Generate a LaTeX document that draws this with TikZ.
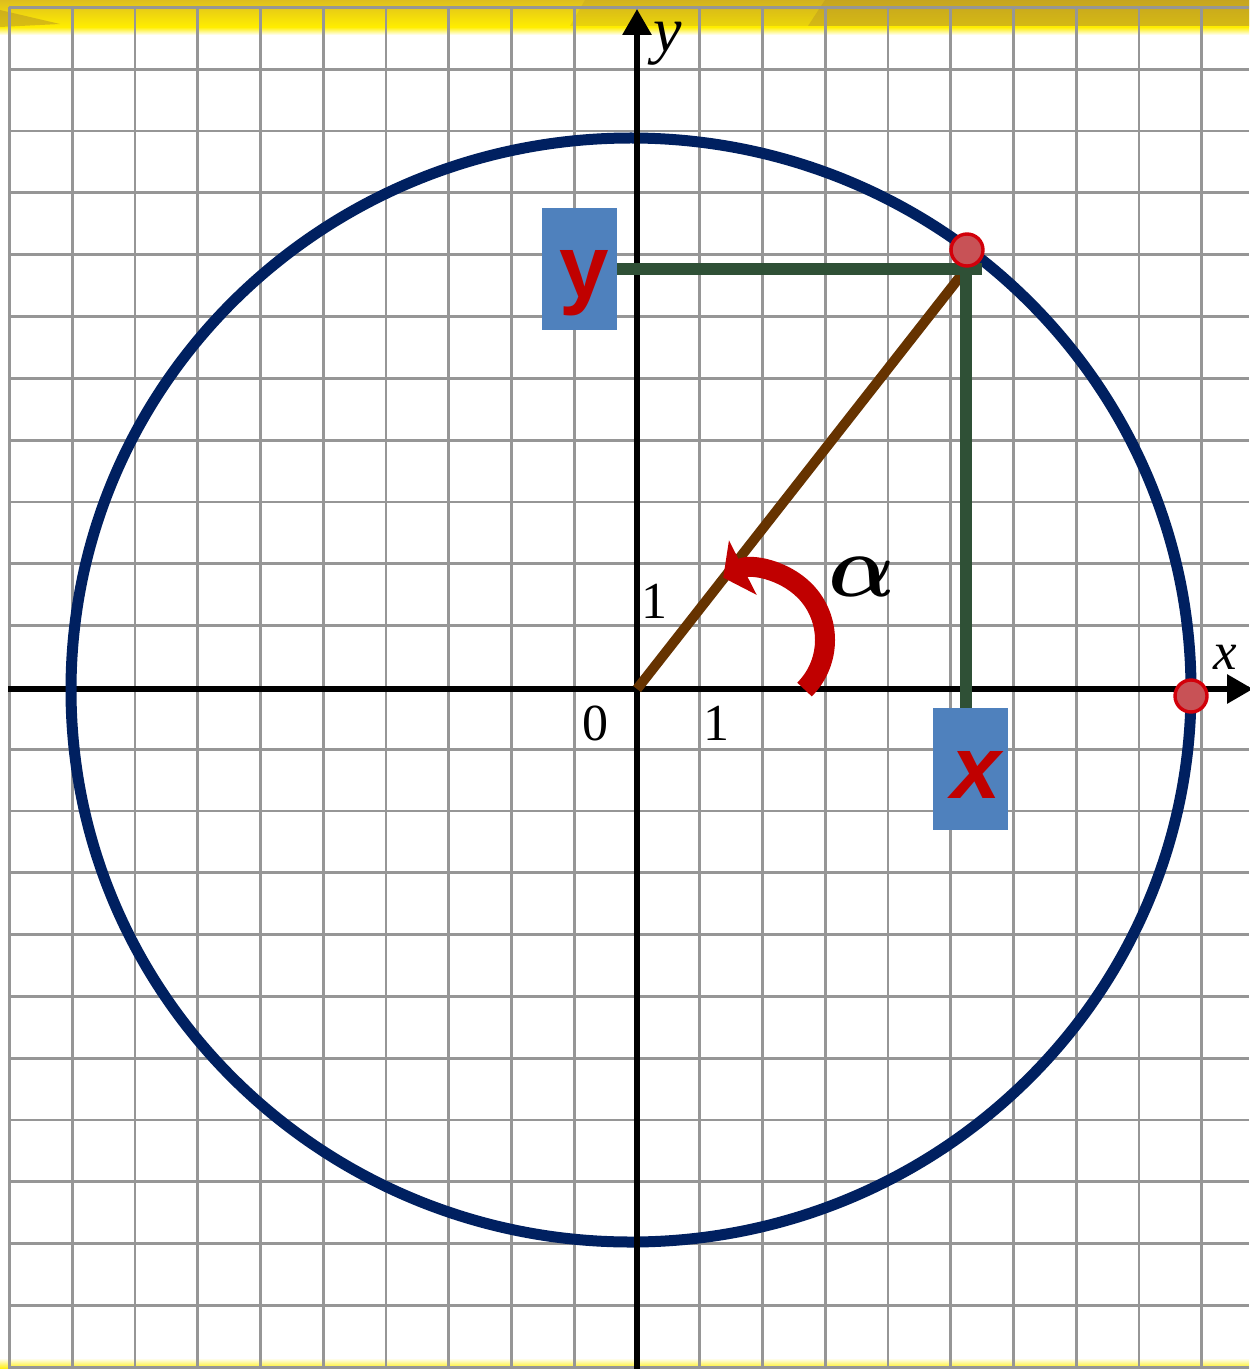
\documentclass[tikz,border=0pt]{standalone}
\usepackage{fontspec}
\setmainfont{Liberation Serif}
\setsansfont{Liberation Sans}
\usetikzlibrary{arrows.meta,calc}
\definecolor{gridgray}{RGB}{150,150,150}
\definecolor{navy}{RGB}{0,32,96}
\definecolor{dkgreen}{RGB}{47,80,54}
\definecolor{brownline}{RGB}{102,51,0}
\definecolor{arrowred}{RGB}{192,0,0}
\definecolor{boxblue}{RGB}{79,129,189}
\definecolor{dotfill}{RGB}{200,82,86}
\definecolor{dotedge}{RGB}{210,0,10}
\definecolor{bandtop}{RGB}{222,190,30}
\definecolor{bandbright}{RGB}{255,238,0}
\definecolor{banddark}{RGB}{180,145,35}
\begin{document}
\begin{tikzpicture}[x=0.5pt,y=-0.5pt,
  gridline/.style={gridgray,line width=1.4pt},
  axisline/.style={black,line width=3pt},
  valbox/.style={fill=boxblue,draw=none,minimum width=37.5pt,minimum height=61pt,inner sep=0pt},
  valtext/.style={text=arrowred,inner sep=0pt,anchor=base},
  numtext/.style={inner sep=0pt,anchor=base,font=\fontsize{26}{26}\selectfont},
  projline/.style={dkgreen,line width=6pt},
  radline/.style={brownline,line width=5pt},
  reddot/.style={circle,fill=dotfill,draw=dotedge,line width=1.7pt,minimum size=16pt,inner sep=0pt}]
\useasboundingbox (0,0) rectangle (1249,1369);
\fill[white] (0,0) rectangle (1249,1369);
% yellow band at the top
\shade[top color=bandtop,bottom color=bandbright] (0,0) rectangle (1249,27);
\shade[top color=bandbright,bottom color=white] (0,27) rectangle (1249,35);
\fill[banddark,opacity=0.55] (825,0) -- (1249,0) -- (1249,26) -- (808,26) -- cycle;
\fill[banddark,opacity=0.25] (585,0) -- (825,0) -- (808,26) -- (570,26) -- cycle;
\fill[banddark,opacity=0.5] (0,10) -- (60,24) -- (0,27) -- cycle;
% yellow line at the bottom
\shade[top color=white,bottom color=bandbright] (0,1358) rectangle (1249,1369);
% grid
\foreach \i in {0,...,19} \draw[gridline] ({9.6+62.74*\i},7) -- ({9.6+62.74*\i},1369);
\foreach \j in {0,...,22} \draw[gridline] (9,{7.5+61.8*\j}) -- (1249,{7.5+61.8*\j});
% axes
\coordinate (O) at (637,689);
\coordinate (xstart) at (8,689);
\coordinate (xend) at (1253,689);
\coordinate (ystart) at (637,1369);
\coordinate (yend) at (637,9);
\draw[axisline,-{Triangle[length=13pt,width=14pt]}] (xstart) -- (xend);
% circle
\draw[navy,line width=5.5pt] (631,690) ellipse [x radius=560, y radius=552];
\draw[axisline,-{Triangle[length=13pt,width=14pt]}] (ystart) -- (yend);
% radius and projections
\coordinate (P) at (966,269);
\coordinate (Pend) at (982,269);
\coordinate (Ptop) at (966,263);
\node[valbox] (ybox) at (579,269) {};
\node[valbox] (xbox) at (970.5,769) {};
\draw[radline] (O) -- (P);
\draw[projline] (ybox.east) -- (Pend);
\draw[projline] (Ptop) -- (Ptop |- xbox.north);
\node[valtext,font=\sffamily\bfseries\fontsize{44.5}{44.5}\selectfont] (ylab) at (584,298) {y};
\node[valtext,font=\sffamily\bfseries\itshape\fontsize{44.5}{44.5}\selectfont] (xlab) at (976,798) {x};
% points
\node[reddot] (A) at (967,250) {};
\node[reddot] (B) at (1191,696) {};
% labels
\node[numtext] (zero) at (595,740) {0};
\node[numtext] (onex) at (716,740) {1};
\node[numtext] (oney) at (654,618) {1};
\node[inner sep=0pt,anchor=base,font=\itshape\fontsize{26.5}{26.5}\selectfont] (xaxislab) at (1225,669) {x};
\node[inner sep=0pt,anchor=base,font=\itshape\fontsize{32}{32}\selectfont] (yaxislab) at (668,52) {y};
\node[inner sep=0pt,anchor=base,scale=4.4,transform shape,font=\boldmath] (alpha) at (862,596) {$\alpha$};
% angle arrow
\coordinate (C) at (755,640);
\draw[arrowred,line width=10pt,-{Triangle[length=11pt,width=30pt]}] ($(C)+(45:70)$) arc[start angle=45,end angle=-117,radius=70];
\end{tikzpicture}
\end{document}
